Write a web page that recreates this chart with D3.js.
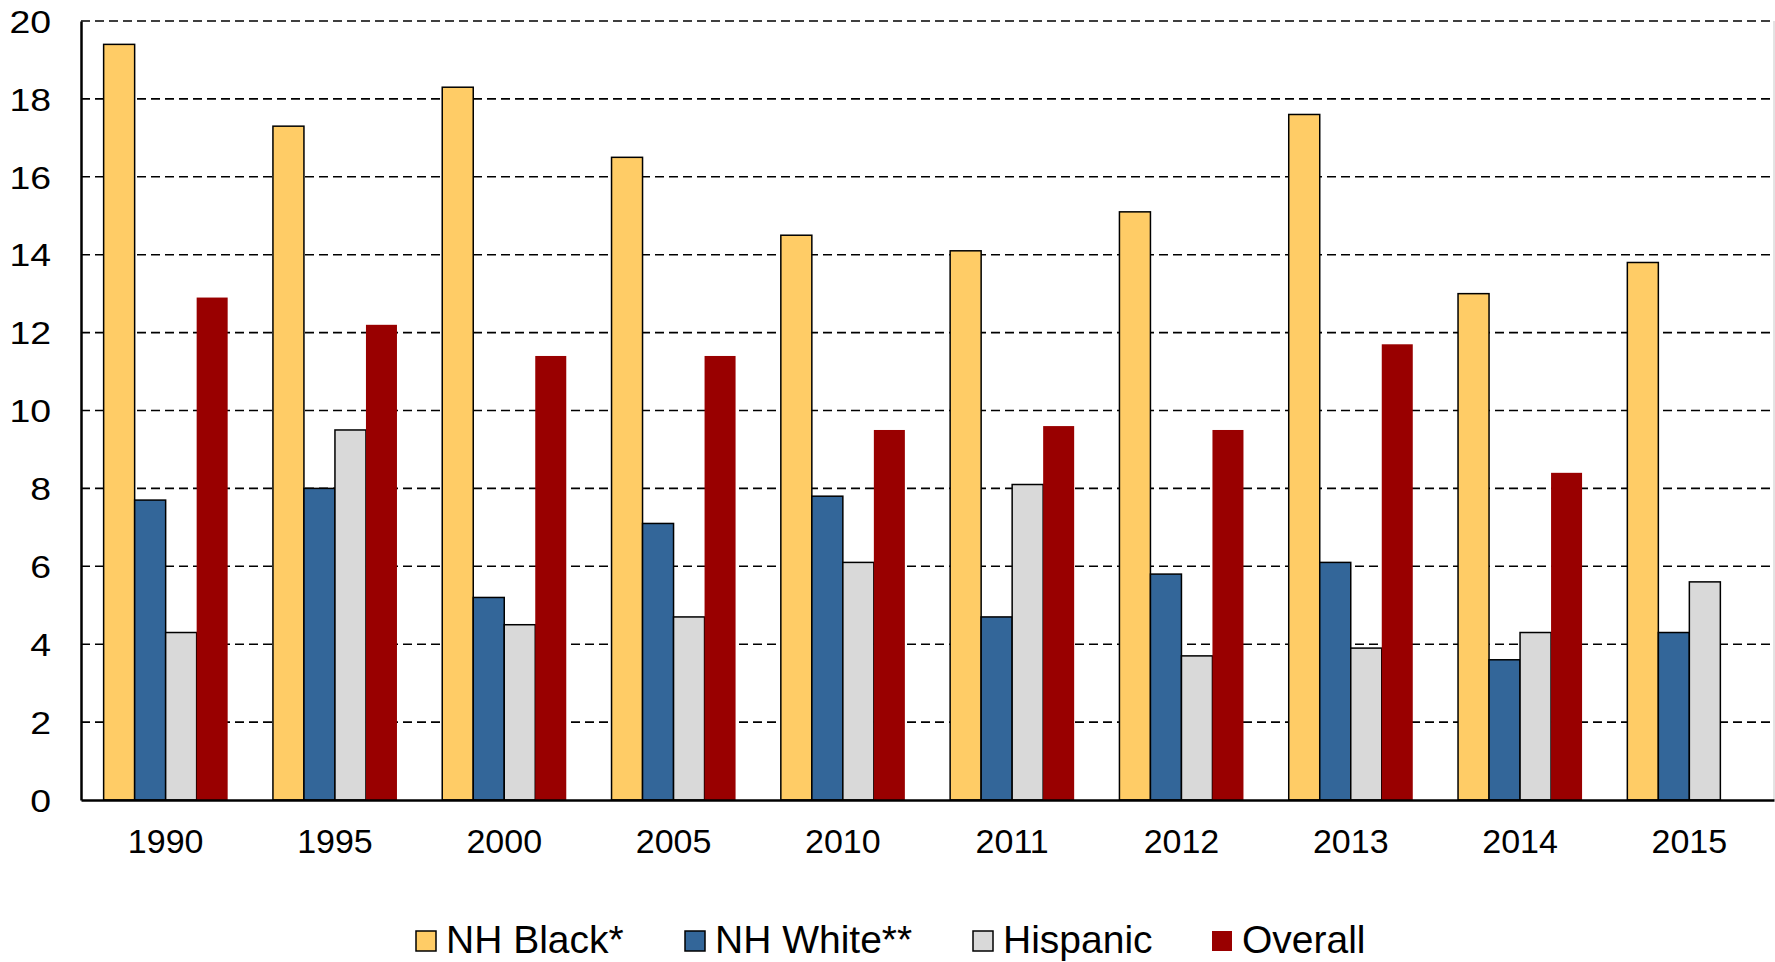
<!DOCTYPE html>
<html><head><meta charset="utf-8">
<script src="https://cdn.jsdelivr.net/npm/d3@7"></script>
<style>
html,body{margin:0;padding:0;background:#fff;}
svg text{font-family:"Liberation Sans",Arial,sans-serif;fill:#000;}
</style></head>
<body>
<svg id="chart" width="1775" height="962"></svg>
<script>
const years = ["1990","1995","2000","2005","2010","2011","2012","2013","2014","2015"];
const seriesNames = ["NH Black*","NH White**","Hispanic","Overall"];
const nhBlack   = [19.4,17.3,18.3,16.5,14.5,14.1,15.1,17.6,13.0,13.8];
const nhWhite   = [7.7,8.0,5.2,7.1,7.8,4.7,5.8,6.1,3.6,4.3];
const hispanic  = [4.3,9.5,4.5,4.7,6.1,8.1,3.7,3.9,4.3,5.6];
const overall   = [12.9,12.2,11.4,11.4,9.5,9.6,9.5,11.7,8.4,null];
const yTicks = [0,2,4,6,8,10,12,14,16,18,20];
const colors = ["#FFCC66","#336699","#D9D9D9","#990000"];
const strokes = ["#000","#000","#000","none"];

const allSeries = [nhBlack, nhWhite, hispanic, overall];
const svg = d3.select("#chart");
const L = 81, R = 1774, T = 21, B = 800;

const x = d3.scaleBand().domain(years).range([L, R]).paddingInner(0).paddingOuter(0);
const xs = d3.scaleBand().domain(seriesNames).range([0, x.bandwidth()]).paddingInner(0).paddingOuter(0.73);
const y = d3.scaleLinear().domain([0, 20]).range([B, T]);

// gridlines
svg.append("g").selectAll("line").data(yTicks.filter(d => d > 0)).join("line")
  .attr("x1", L).attr("x2", R)
  .attr("y1", d => y(d)).attr("y2", d => y(d))
  .attr("stroke", "#000").attr("stroke-width", 1.6)
  .attr("stroke-dasharray", "9,5");

// right border
svg.append("line").attr("x1", R).attr("x2", R).attr("y1", T).attr("y2", B)
  .attr("stroke", "#c8c8c8").attr("stroke-width", 1);

// bars
const data = [];
years.forEach((yr, i) => {
  seriesNames.forEach((s, j) => {
    const v = allSeries[j][i];
    if (v != null) data.push({yr, s, j, v});
  });
});
svg.append("g").selectAll("rect").data(data).join("rect")
  .attr("x", d => x(d.yr) + xs(d.s))
  .attr("y", d => y(d.v))
  .attr("width", xs.bandwidth())
  .attr("height", d => y(0) - y(d.v))
  .attr("fill", d => colors[d.j])
  .attr("stroke", d => strokes[d.j])
  .attr("stroke-width", 1.5);

// axes
const yAxis = d3.axisLeft(y).tickValues(yTicks).tickSize(0).tickPadding(25.6).tickFormat(d3.format("d"));
const gy = svg.append("g").attr("transform", `translate(${L},0)`).call(yAxis);
gy.select(".domain").attr("stroke", "#000").attr("stroke-width", 2.5);
gy.selectAll("text").attr("font-size", 32).attr("font-family", "Liberation Sans, Arial, sans-serif")
  .attr("dy", "0.35em").attr("transform", "scale(1.17,1)");

const xAxis = d3.axisBottom(x).tickSize(0).tickPadding(29);
const gx = svg.append("g").attr("transform", `translate(0,${B})`).call(xAxis);
gx.select(".domain").attr("stroke", "#000").attr("stroke-width", 2.5);
gx.selectAll("text").attr("font-size", 34).attr("font-family", "Liberation Sans, Arial, sans-serif");

// legend
const legendX = [416, 685, 973, 1212];
const lg = svg.append("g");
seriesNames.forEach((s, j) => {
  lg.append("rect").attr("x", legendX[j]).attr("y", 931).attr("width", 20).attr("height", 20)
    .attr("fill", colors[j]).attr("stroke", strokes[j] === "none" ? "none" : "#000").attr("stroke-width", 1.5);
  lg.append("text").attr("x", legendX[j] + 30).attr("y", 953).attr("font-size", 39).text(s);
});
</script>
</body></html>
